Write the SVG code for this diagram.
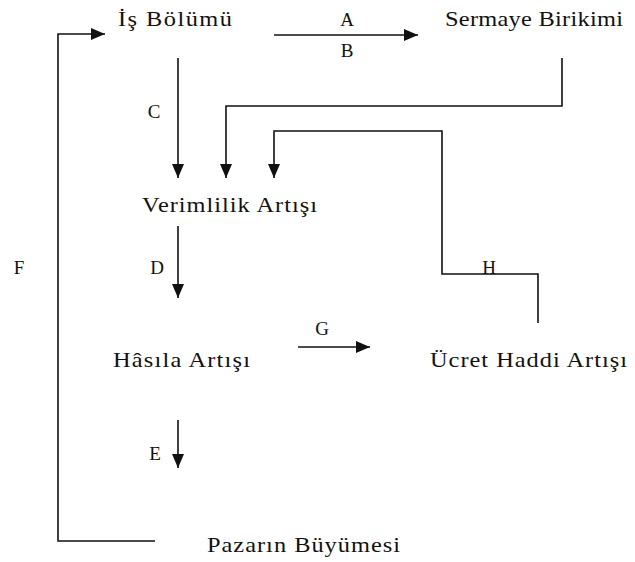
<svg xmlns="http://www.w3.org/2000/svg" width="635" height="562" viewBox="0 0 635 562">
<style>
text{font-family:"Liberation Serif","Times New Roman",serif;font-size:20px;fill:#111}
.lbl{text-anchor:middle;font-size:19px}
.c{fill:none;stroke:#111;stroke-width:1.6}
</style>
<defs>
<marker id="ah" viewBox="0 0 14 12" refX="14" refY="6" markerWidth="14" markerHeight="12" markerUnits="userSpaceOnUse" orient="auto">
<path d="M0,0 L14,6 L0,12 Z" fill="#111"/>
</marker>
</defs>
<rect width="635" height="562" fill="#fff"/>
<g id="connectors">
<path class="c" d="M155,541 H58 V34 H105" marker-end="url(#ah)"/>
<path class="c" d="M274,35 H418" marker-end="url(#ah)"/>
<path class="c" d="M178,58 V178" marker-end="url(#ah)"/>
<path class="c" d="M562,58 V106 H226 V178" marker-end="url(#ah)"/>
<path class="c" d="M538,323 V274 H442 V131 H274 V178" marker-end="url(#ah)"/>
<path class="c" d="M178,226 V298" marker-end="url(#ah)"/>
<path class="c" d="M298,347 H370" marker-end="url(#ah)"/>
<path class="c" d="M178,420 V468" marker-end="url(#ah)"/>
<text class="lbl" x="347" y="26">A</text>
<text class="lbl" x="347" y="57">B</text>
<text class="lbl" x="154" y="118">C</text>
<text class="lbl" x="157" y="274">D</text>
<text class="lbl" x="19" y="274">F</text>
<text class="lbl" x="322" y="335">G</text>
<text class="lbl" x="489" y="274">H</text>
<text class="lbl" x="155" y="460">E</text>
</g>
<g id="is-bolumu"><text transform="translate(118,26) scale(1.22,1)" textLength="93.4" lengthAdjust="spacing">İş Bölümü</text></g>
<g id="sermaye-birikimi"><text transform="translate(445,26) scale(1.22,1)" textLength="145.9" lengthAdjust="spacing">Sermaye Birikimi</text></g>
<g id="verimlilik-artisi"><text transform="translate(142,212) scale(1.22,1)" textLength="143.4" lengthAdjust="spacing">Verimlilik Artışı</text></g>
<g id="hasila-artisi"><text transform="translate(113,367) scale(1.22,1)" textLength="112.3" lengthAdjust="spacing">Hâsıla Artışı</text></g>
<g id="ucret-haddi-artisi"><text transform="translate(430,367) scale(1.22,1)" textLength="161.5" lengthAdjust="spacing">Ücret Haddi Artışı</text></g>
<g id="pazarin-buyumesi"><text transform="translate(207,552) scale(1.22,1)" textLength="158.2" lengthAdjust="spacing">Pazarın Büyümesi</text></g>
</svg>
